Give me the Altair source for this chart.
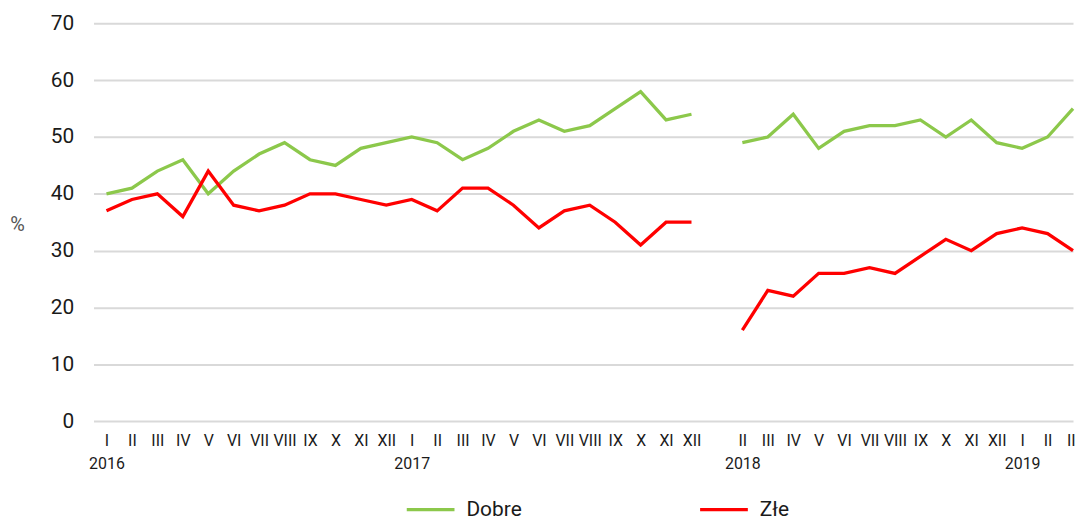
import altair as alt
import pandas as pd

months = ["I", "II", "III", "IV", "V", "VI", "VII", "VIII", "IX", "X", "XI", "XII"] * 3 + ["I", "II", "III"]
years = {0: "2016", 12: "2017", 25: "2018", 36: "2019"}

dobre = [40, 41, 44, 46, 40, 44, 47, 49, 46, 45, 48, 49,
         50, 49, 46, 48, 51, 53, 51, 52, 55, 58, 53, 54,
         None, 49, 50, 54, 48, 51, 52, 52, 53, 50, 53, 49,
         48, 50, 55]
zle = [37, 39, 40, 36, 44, 38, 37, 38, 40, 40, 39, 38,
       39, 37, 41, 41, 38, 34, 37, 38, 35, 31, 35, 35,
       None, 16, 23, 22, 26, 26, 27, 26, 29, 32, 30, 33,
       34, 33, 30]

series = ["Dobre", "Złe"]
colors = ["#8CC84B", "#FF0000"]

rows = []
for i in range(len(months)):
    rows.append({"idx": i, "series": "Dobre", "value": dobre[i]})
    rows.append({"idx": i, "series": "Złe", "value": zle[i]})
df = pd.DataFrame(rows)

tick_vals = [i for i in range(len(months)) if i != 24]
month_arr = "[" + ",".join("'%s'" % m for m in months) + "]"
year_arr = "[" + ",".join("'%s'" % years.get(i, "") for i in range(len(months))) + "]"
label_expr = (f"{year_arr}[datum.value] ? [{month_arr}[datum.value], {year_arr}[datum.value]]"
              f" : {month_arr}[datum.value]")

FONT = "Roboto"

chart = alt.Chart(df).mark_line(strokeWidth=3.3).encode(
    x=alt.X("idx:Q",
            scale=alt.Scale(domain=[-0.51, 38.0], nice=False, zero=False),
            axis=alt.Axis(values=tick_vals, labelExpr=label_expr, title=None,
                          grid=False, domain=False, ticks=False,
                          labelOverlap=False, labelFlush=False,
                          labelFontSize=16, labelPadding=12, labelBaseline="top",
                          labelLineHeight=23, labelColor="#1a1a1a", labelFont=FONT)),
    y=alt.Y("value:Q",
            scale=alt.Scale(domain=[0, 70], nice=False),
            axis=alt.Axis(values=list(range(0, 71, 10)), title="%",
                          titleAngle=0, titleX=-77, titleY=202, titleAlign="center",
                          titleBaseline="middle", titleFontSize=20, titleFontWeight="normal",
                          titleColor="#555555", titleFont=FONT,
                          grid=True, gridColor="#d9d9d9", gridWidth=2,
                          domain=False, ticks=False, labelFontSize=21, labelPadding=20,
                          labelColor="#1a1a1a", labelFont=FONT)),
    color=alt.Color("series:N",
                    scale=alt.Scale(domain=series, range=colors),
                    legend=alt.Legend(title=None, orient="none", legendX=313, legendY=463,
                                      direction="horizontal", symbolType="stroke",
                                      symbolSize=2304, symbolStrokeWidth=3.5,
                                      labelFontSize=21, labelOffset=10, labelFont=FONT,
                                      labelColor="#1a1a1a", columnPadding=172, padding=0)),
).properties(
    width=985, height=400,
    autosize=alt.AutoSizeParams(type="none"),
    padding={"left": 86, "top": 14, "right": 2, "bottom": 97},
).configure_view(stroke=None)

chart.save("out.html", embed_options={"renderer": "svg", "actions": False})
